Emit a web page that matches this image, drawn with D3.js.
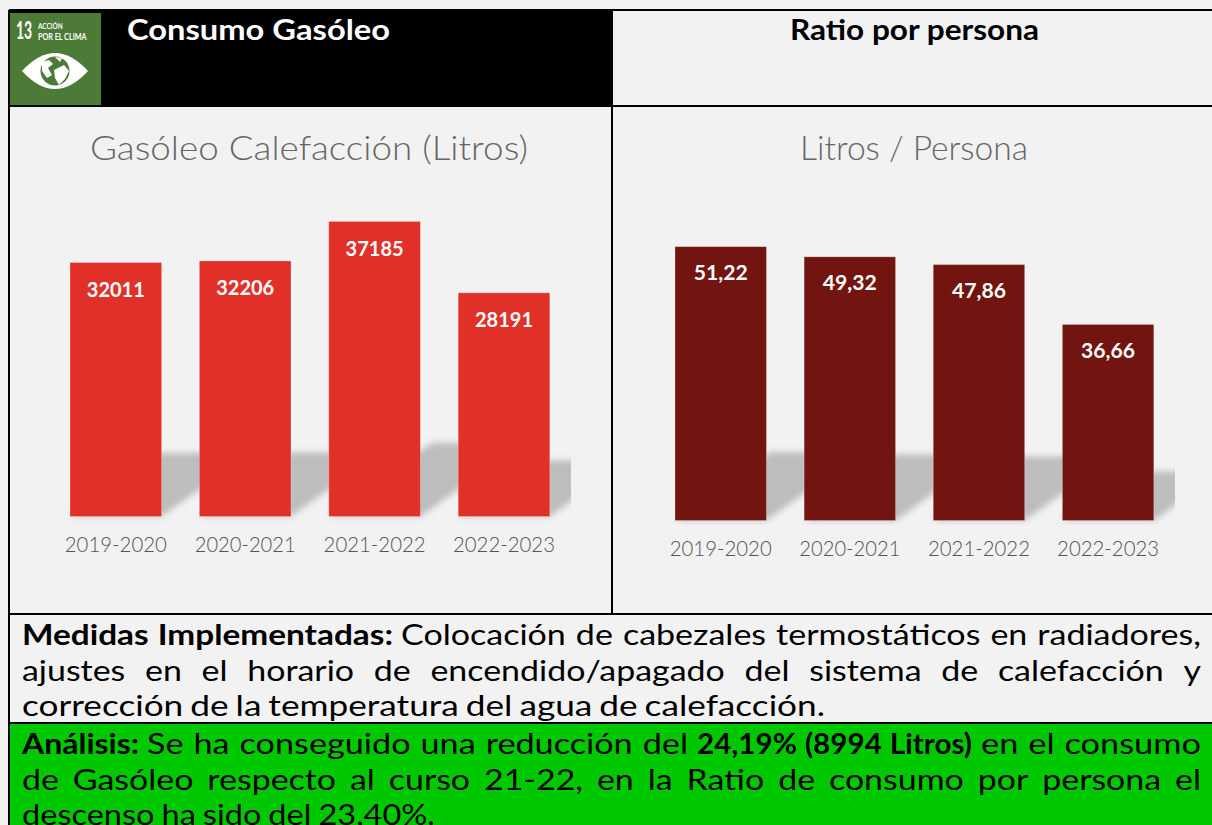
<!DOCTYPE html>
<html><head><meta charset="utf-8">
<script src="https://cdnjs.cloudflare.com/ajax/libs/d3/7.8.5/d3.min.js"></script>
<style>html,body{margin:0;padding:0;background:#f2f2f2;overflow:hidden}svg{display:block}text{font-family:Lato,"Open Sans",sans-serif}</style>
</head><body><svg id="c" width="1212" height="825"></svg>
<script>
const categories = ["2019-2020","2020-2021","2021-2022","2022-2023"];
const litros = [32011,32206,37185,28191];
const ratio = [51.22,49.32,47.86,36.66];
const ratioLabels = ["51,22","49,32","47,86","36,66"];
const litrosLabels = litros.map(String);

const svg = d3.select("#c");
const defs = svg.append("defs");
defs.append("filter").attr("id","blur").attr("x","-20%").attr("y","-20%").attr("width","140%").attr("height","140%")
  .append("feGaussianBlur").attr("stdDeviation",3.4);
[["clipL",40,571],["clipR",640,1175]].forEach(([id,a,b])=>{
  defs.append("clipPath").attr("id",id).append("rect").attr("x",a).attr("y",300).attr("width",b-a).attr("height",225);
});

function fit(node,w){node.setAttribute("textLength",w);node.setAttribute("lengthAdjust","spacingAndGlyphs");}
function label(txt,x,y,size,w,o={}){
  const t=svg.append("text").attr("x",x).attr("y",y).attr("font-size",size)
    .attr("font-weight",o.weight||400).attr("fill",o.fill||"#000").attr("text-anchor",o.anchor||"start").text(txt);
  if(w) fit(t.node(),w);
  return t;
}

// table background + header
svg.append("rect").attr("x",9).attr("y",10).attr("width",603).attr("height",96).attr("fill","#000");
svg.append("rect").attr("x",9).attr("y",724).attr("width",1203).attr("height",101).attr("fill","#00c800");

// icon
const icon=svg.append("g");
icon.append("rect").attr("x",10).attr("y",13).attr("width",91).attr("height",92).attr("fill","#4c7a37");
icon.append("path").attr("d","M22 71 Q55 35 88 71 Q55 107 22 71Z").attr("fill","#fff");
icon.append("circle").attr("cx",55).attr("cy",71).attr("r",14.5).attr("fill","#4c7a37");
icon.append("path").attr("fill","#fff").attr("d","M42 62 L49 60 L53 64 L48 68 L52 75 L47 78 L42 71Z M54 70 L64 65 L69 71 L65 79 L59 85 L55 78Z M55 57 L62 58 L60 62Z");
svg.append("text").attr("transform","translate(16,39) scale(0.56,1)").attr("font-size",25).attr("font-weight",700)
  .attr("fill","#fff").attr("font-family","Roboto").text("13");
svg.append("text").attr("transform","translate(38,29) scale(0.85,1)").attr("font-size",7.5).attr("font-weight",700).attr("fill","#fff").text("ACCIÓN");
svg.append("text").attr("transform","translate(38,39.5) scale(0.85,1)").attr("font-size",8.5).attr("font-weight",700).attr("fill","#fff").text("POR EL CLIMA");

label("Consumo Gasóleo",127,40,28,263,{weight:700,fill:"#fff"});
label("Ratio por persona",790,40,28,249,{weight:700});
label("Gasóleo Calefacción (Litros)",90,160,33,438,{weight:300,fill:"#666"});
label("Litros / Persona",800,160,33,228,{weight:300,fill:"#666"});

function chart(values,labels,xr,base,domainMax,pxMax,color,clip,valW,valDy,tickY){
  const x=d3.scaleBand().domain(categories).range(xr).paddingInner(0.292).paddingOuter(0);
  const y=d3.scaleLinear().domain([0,domainMax]).range([base,base-pxMax]);
  const rows=categories.map((c,i)=>({c,v:values[i],l:labels[i]}));
  const line=d3.line();
  svg.append("g").attr("clip-path",`url(#${clip})`).append("g").attr("filter","url(#blur)")
    .selectAll("path").data(rows).join("path").attr("fill","#bdbdbd")
    .attr("d",d=>{
      const h=(y(0)-y(d.v))*0.25, off=h*1.4, a=x(d.c), b=a+x.bandwidth();
      return line([[a,y(0)],[b,y(0)],[b+off,y(0)-h],[a+off,y(0)-h]])+"Z";
    });
  svg.append("g").selectAll("rect").data(rows).join("rect")
    .attr("x",d=>x(d.c)).attr("y",d=>y(d.v)).attr("width",x.bandwidth()).attr("height",d=>y(0)-y(d.v))
    .attr("fill",color).attr("stroke","#fff").attr("stroke-opacity",.25).attr("stroke-width",1);
  svg.append("g").selectAll("text").data(rows).join("text")
    .attr("x",d=>x(d.c)+x.bandwidth()/2).attr("y",d=>y(d.v)+valDy).attr("text-anchor","middle")
    .attr("font-size",21).attr("font-weight",700).attr("fill","#fff").text(d=>d.l)
    .each(function(){fit(this,valW)});
  const ax=svg.append("g").attr("transform",`translate(0,${tickY})`).call(d3.axisBottom(x).tickSize(0).tickPadding(0));
  ax.select(".domain").remove();
  ax.selectAll("text").attr("font-size",21).attr("font-weight",300).attr("fill","#555").attr("font-family","Lato").attr("dy",0).attr("y",0)
    .each(function(){fit(this,this.textContent==="2020-2021"?101:102)});
}
chart(litros,litrosLabels,[70,549.8],516.5,40000,317.4,"#e03028","clipL",58,34.5,552);
chart(ratio,ratioLabels,[675,1153.8],520.5,60,320.8,"#72140f","clipR",54,33.5,556);

// body paragraphs (word by word)
const SIZE=29,K=1.17;
const meas=svg.append("text").attr("font-size",SIZE).attr("x",-999).attr("y",-999);
function nat(w,wt){meas.attr("font-weight",wt).text(w);return meas.node().getComputedTextLength();}
// fixedGap: word widths are scaled so the run spans x0..x1 with that gap; otherwise words use K and gaps justify
function run(words,x0,x1,y,wt,fixedGap){
  const ns=words.map(w=>nat(w,wt)), gapsN=words.length-1;
  const k=fixedGap!==undefined?(x1-x0-fixedGap*gapsN)/d3.sum(ns):K;
  const ws=ns.map(n=>n*k);
  const gap=fixedGap!==undefined?fixedGap:(gapsN>0?(x1-x0-d3.sum(ws))/gapsN:0);
  let cx=x0;
  words.forEach((w,i)=>{
    const t=svg.append("text").attr("x",cx).attr("y",y).attr("font-size",SIZE).attr("font-weight",wt).attr("fill","#000").text(w);
    fit(t.node(),ws[i]);
    cx+=ws[i]+gap;
  });
}
const sp=s=>s.split(" ");
run(sp("Medidas Implementadas:"),22,393,645,700,9);
run(sp("Colocación de cabezales termostáticos en radiadores,"),401,1201,645,400,10);
run(sp("ajustes en el horario de encendido/apagado del sistema de calefacción y"),22,1201,681,400);
run(sp("corrección de la temperatura del agua de calefacción."),22,825,716,400,7);
run(sp("Análisis:"),22,139,754,700,0);
run(sp("Se ha conseguido una reducción del"),147,688,754,400,10);
run(sp("24,19% (8994 Litros)"),697,972,754,700,8);
run(sp("en el consumo"),981,1201,754,400,10);
run(sp("de Gasóleo respecto al curso 21-22, en la Ratio de consumo por persona el"),22,1201,790,400);
run(sp("descenso ha sido del 23,40%."),22,435,825,400,7);
meas.remove();

// grid lines
const rules=[[9,10,1212,10],[9,106,1212,106],[9,614,1212,614],[9,723,1212,723],[9,10,9,825],[612,10,612,614]];
svg.append("g").selectAll("line").data(rules).join("line")
  .attr("x1",d=>d[0]).attr("y1",d=>d[1]).attr("x2",d=>d[2]).attr("y2",d=>d[3]).attr("stroke","#000").attr("stroke-width",2);
</script></body></html>
